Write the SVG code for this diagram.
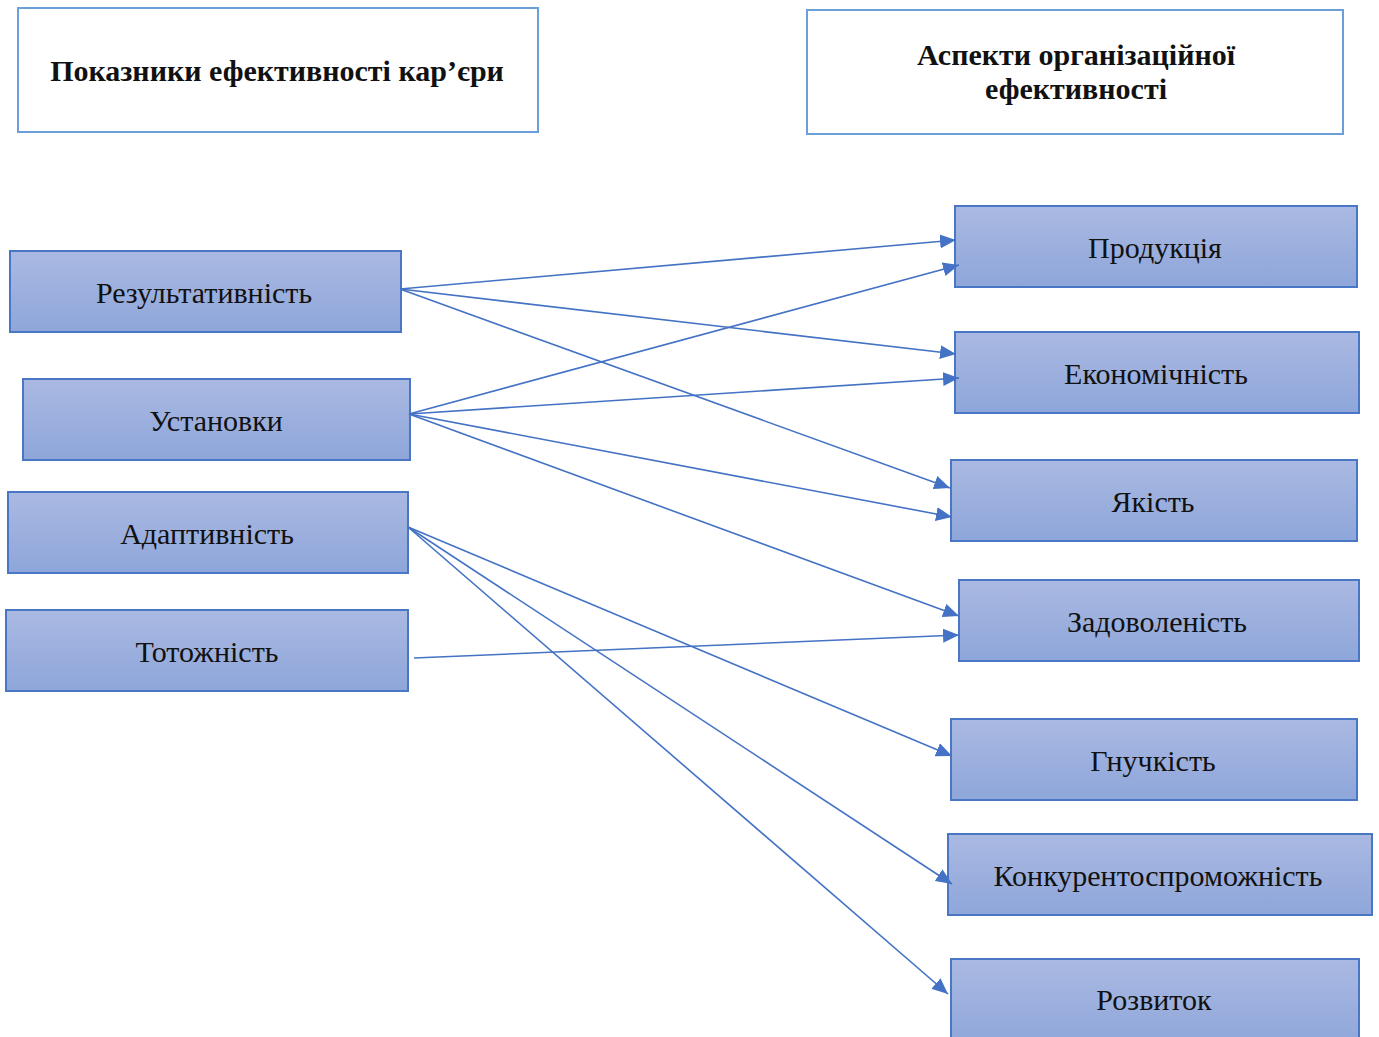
<svg xmlns="http://www.w3.org/2000/svg" width="1379" height="1037" viewBox="0 0 1379 1037">
<defs>
<linearGradient id="g" x1="0" y1="0" x2="0" y2="1">
<stop offset="0" stop-color="#aab9e2"/>
<stop offset="1" stop-color="#8ea6da"/>
</linearGradient>
<marker id="ah" markerUnits="userSpaceOnUse" markerWidth="17" markerHeight="14" refX="16" refY="7" orient="auto">
<path d="M0,0 L16,7 L0,14 Z" fill="#4472c4"/>
</marker>
<style>
.hdr{fill:#ffffff;stroke:#6a9fd8;stroke-width:2}
.box{fill:url(#g);stroke:#4a76c6;stroke-width:2}
.t{font-family:"Liberation Serif","DejaVu Serif",serif;font-size:30px;fill:#111;text-anchor:middle}
.b{font-weight:bold}
.c line{stroke:#4472c4;stroke-width:1.6;fill:none;marker-end:url(#ah)}
</style>
</defs>
<rect width="1379" height="1037" fill="#ffffff"/>
<g id="hdr-left"><rect class="hdr" x="18" y="8" width="520" height="124"/><text class="t b" x="277" y="81">Показники ефективності кар’єри</text></g>
<g id="hdr-right"><rect class="hdr" x="807" y="10" width="536" height="124"/><text class="t b" x="1076" y="65">Аспекти організаційної</text><text class="t b" x="1076" y="99">ефективності</text></g>
<g id="n-rez"><rect class="box" x="10" y="251" width="391" height="81"/><text class="t" x="204" y="303">Результативність</text></g>
<g id="n-ust"><rect class="box" x="23" y="379" width="387" height="81"/><text class="t" x="216" y="431">Установки</text></g>
<g id="n-adapt"><rect class="box" x="8" y="492" width="400" height="81"/><text class="t" x="207" y="544">Адаптивність</text></g>
<g id="n-tot"><rect class="box" x="6" y="610" width="402" height="81"/><text class="t" x="207" y="662">Тотожність</text></g>
<g id="n-prod"><rect class="box" x="955" y="206" width="402" height="81"/><text class="t" x="1155" y="258">Продукція</text></g>
<g id="n-ekon"><rect class="box" x="955" y="332" width="404" height="81"/><text class="t" x="1156" y="384">Економічність</text></g>
<g id="n-yak"><rect class="box" x="951" y="460" width="406" height="81"/><text class="t" x="1153" y="512">Якість</text></g>
<g id="n-zad"><rect class="box" x="959" y="580" width="400" height="81"/><text class="t" x="1157" y="632">Задоволеність</text></g>
<g id="n-gnuch"><rect class="box" x="951" y="719" width="406" height="81"/><text class="t" x="1153" y="771">Гнучкість</text></g>
<g id="n-konk"><rect class="box" x="948" y="834" width="424" height="81"/><text class="t" x="1158" y="886">Конкурентоспроможність</text></g>
<g id="n-rozv"><rect class="box" x="951" y="959" width="408" height="90"/><text class="t" x="1154" y="1010">Розвиток</text></g>
<g id="connectors" class="c">
<line x1="400" y1="289" x2="956" y2="240"/>
<line x1="400" y1="289" x2="956" y2="354"/>
<line x1="400" y1="289" x2="950" y2="488"/>
<line x1="409" y1="414" x2="959" y2="265"/>
<line x1="409" y1="414" x2="959" y2="378"/>
<line x1="409" y1="414" x2="952" y2="517"/>
<line x1="409" y1="414" x2="959" y2="616"/>
<line x1="408" y1="527" x2="952" y2="756"/>
<line x1="408" y1="527" x2="952" y2="884"/>
<line x1="408" y1="527" x2="948" y2="994"/>
<line x1="414" y1="658" x2="959" y2="635"/>
</g>
</svg>
